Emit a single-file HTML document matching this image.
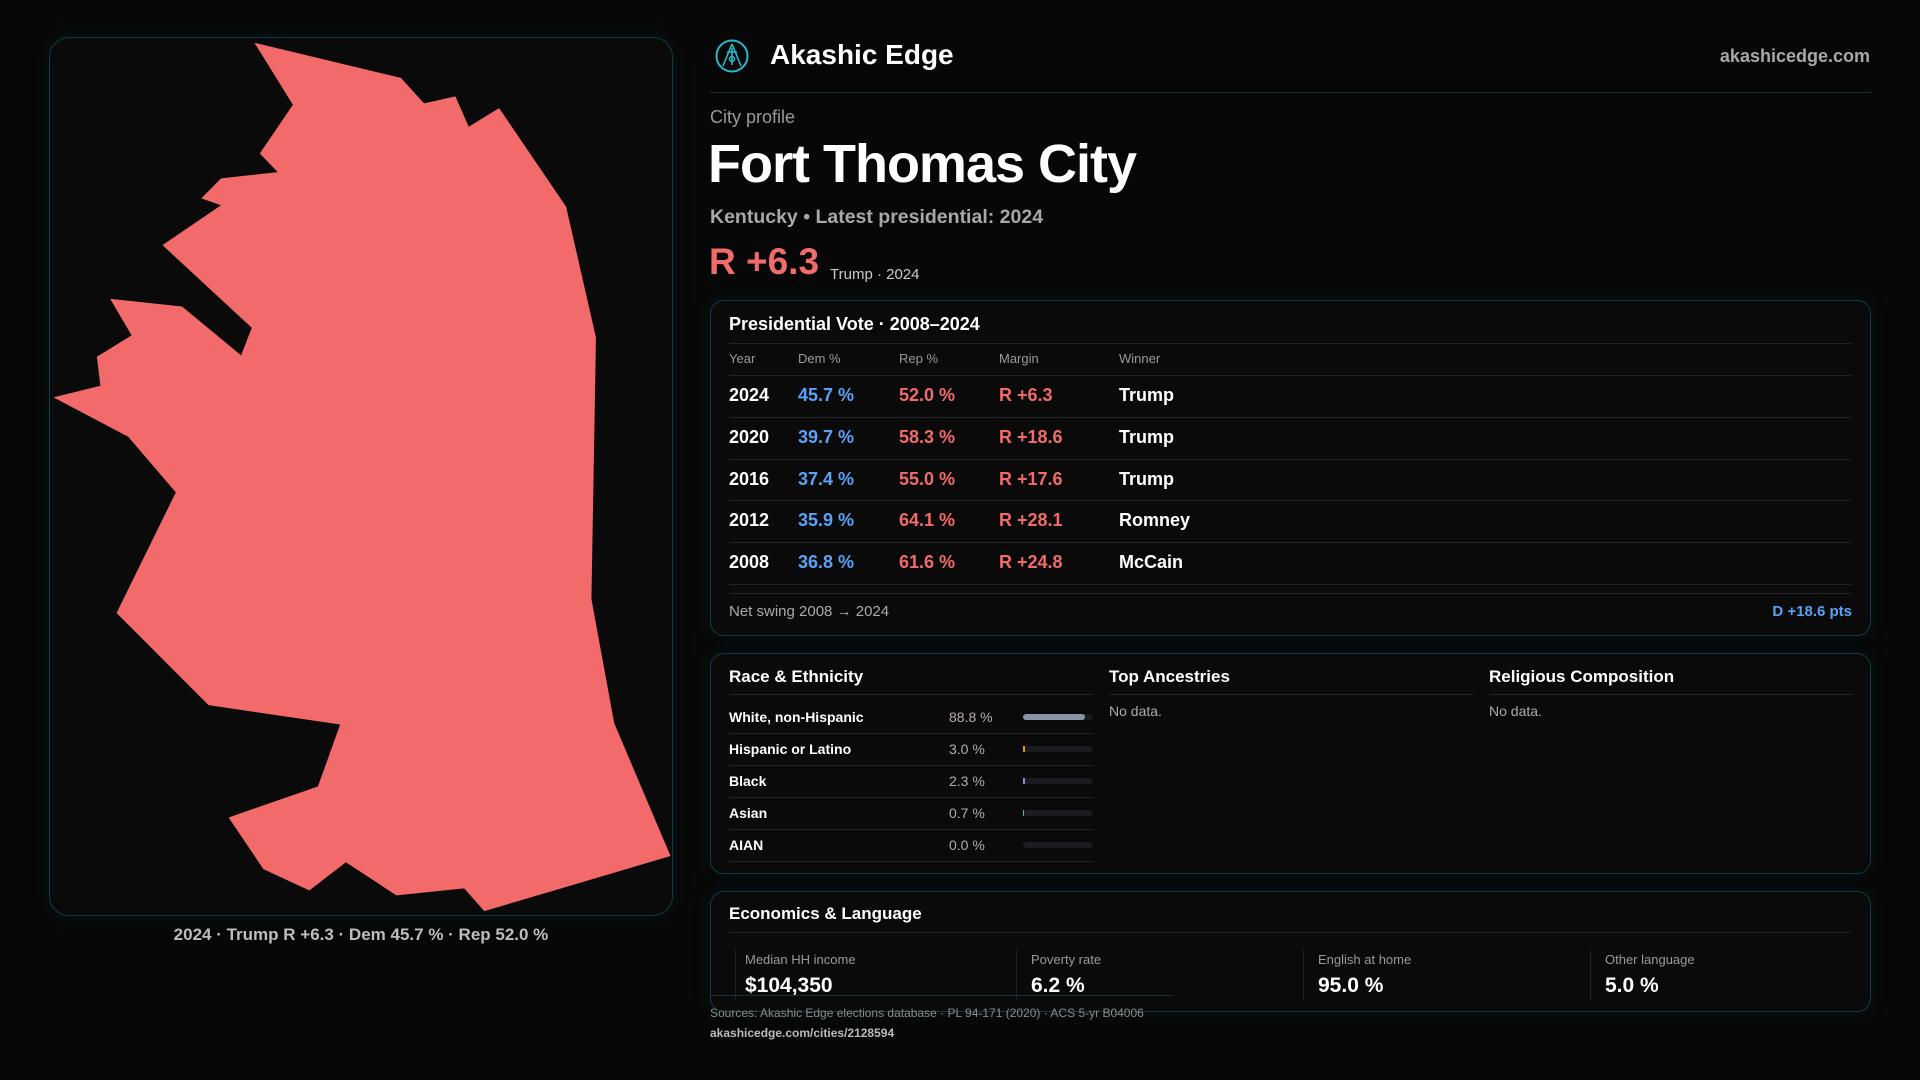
<!DOCTYPE html>
<html><head><meta charset="utf-8"><style>
*{margin:0;padding:0;box-sizing:border-box}
body{width:1920px;height:1080px;background:#070707;font-family:"Liberation Sans",sans-serif;position:relative;overflow:hidden;color:#fff}
.a{position:absolute;white-space:nowrap}
.card{position:absolute;border:1px solid #0f3b45;border-radius:14px;background:#0a0a0b;box-shadow:0 0 18px rgba(20,90,110,0.18)}
.hl{position:absolute;height:1px;background:#1e2226}
.g{color:#9a9a9a}
.b{font-weight:bold}
.blue{color:#5aa2f7}.red{color:#f26b6b}
.bar{position:absolute;height:6px;border-radius:3px;background:#1b1c1f;left:1023px;width:70px}
</style></head><body>
<div class="card" style="left:49px;top:37px;width:624px;height:879px;border-radius:20px;background:#0a0a0b"></div>
<svg class="a" style="left:0;top:0" width="1920" height="1080" viewBox="0 0 1568 882">
<polygon fill="#f36a6a" points="207.8,34.9 327.4,63.6 346.3,84.4 371.9,78.7 382.8,103.5 407.6,88.3 462.3,168.7 486.7,275.6 483,489.3 501.6,590.6 547.6,699.1 395.5,744.1 379.1,725.5 323.7,731.2 282.5,704.2 252.6,727.2 215.1,709.8 186.7,667.6 259.6,642.3 277.8,591.7 170.3,575.9 95.2,500.6 143.6,402.1 104.6,356.6 43.7,324.5 82,315 79.1,291.3 107.5,273.9 90,244.1 148.7,250.3 196.9,290.2 205.6,267.7 132.7,200.2 180.5,167.6 164.4,162 180.5,145.7 226.8,140.6 212.2,125.4 239.2,85.5"/>
</svg>
<div class="a b" style="left:0;width:722px;text-align:center;top:925px;font-size:17px;color:#bdbdbd">2024 · Trump R +6.3 · Dem 45.7 % · Rep 52.0 %</div>

<svg class="a" style="left:714px;top:38px" width="36" height="36" viewBox="0 0 36 36"><circle cx="18" cy="18" r="15.5" fill="none" stroke="#2bb8c8" stroke-width="2"/><path d="M18 6 L9 28 M18 6 L27 28 M18 10 L18 27 M13 14 L23 14" stroke="#2bb8c8" stroke-width="1.6" fill="none"/><circle cx="18" cy="21" r="2.5" fill="none" stroke="#2bb8c8" stroke-width="1.5"/></svg>
<div class="a b" style="left:770px;top:39px;font-size:28px">Akashic Edge</div>
<div class="a b g" style="right:50px;top:46px;font-size:18px;color:#a8a8a8">akashicedge.com</div>
<div class="hl" style="left:710px;top:92px;width:1161px;background:#173038"></div>
<div class="a" style="left:710px;top:107px;font-size:18px;color:#9a9a9a">City profile</div>
<div class="a b" style="left:708px;top:133px;font-size:54px;letter-spacing:-1px">Fort Thomas City</div>
<div class="a b" style="left:710px;top:206px;font-size:19.5px;color:#a8a8a8">Kentucky • Latest presidential: 2024</div>
<div class="a b red" style="left:709px;top:241px;font-size:37px">R +6.3</div>
<div class="a" style="left:830px;top:266px;font-size:15px;color:#c8c8c8">Trump · 2024</div>

<div class="card" style="left:710px;top:300px;width:1161px;height:336px"></div>
<div class="a b" style="left:729px;top:314px;font-size:18px">Presidential Vote · 2008–2024</div>
<div class="hl" style="left:729px;top:343px;width:1123px"></div>
<div class="a g" style="left:729px;top:351px;font-size:13px">Year</div>
<div class="a g" style="left:798px;top:351px;font-size:13px">Dem %</div>
<div class="a g" style="left:899px;top:351px;font-size:13px">Rep %</div>
<div class="a g" style="left:999px;top:351px;font-size:13px">Margin</div>
<div class="a g" style="left:1119px;top:351px;font-size:13px">Winner</div>
<div class="hl" style="left:729px;top:375px;width:1123px"></div>

<div class="a b" style="left:729px;top:385px;font-size:18px">2024</div><div class="a b blue" style="left:798px;top:385px;font-size:18px">45.7 %</div><div class="a b red" style="left:899px;top:385px;font-size:18px">52.0 %</div><div class="a b red" style="left:999px;top:385px;font-size:18px">R +6.3</div><div class="a b" style="left:1119px;top:385px;font-size:18px">Trump</div>
<div class="hl" style="left:729px;top:417px;width:1123px"></div>
<div class="a b" style="left:729px;top:427px;font-size:18px">2020</div><div class="a b blue" style="left:798px;top:427px;font-size:18px">39.7 %</div><div class="a b red" style="left:899px;top:427px;font-size:18px">58.3 %</div><div class="a b red" style="left:999px;top:427px;font-size:18px">R +18.6</div><div class="a b" style="left:1119px;top:427px;font-size:18px">Trump</div>
<div class="hl" style="left:729px;top:459px;width:1123px"></div>
<div class="a b" style="left:729px;top:469px;font-size:18px">2016</div><div class="a b blue" style="left:798px;top:469px;font-size:18px">37.4 %</div><div class="a b red" style="left:899px;top:469px;font-size:18px">55.0 %</div><div class="a b red" style="left:999px;top:469px;font-size:18px">R +17.6</div><div class="a b" style="left:1119px;top:469px;font-size:18px">Trump</div>
<div class="hl" style="left:729px;top:500px;width:1123px"></div>
<div class="a b" style="left:729px;top:510px;font-size:18px">2012</div><div class="a b blue" style="left:798px;top:510px;font-size:18px">35.9 %</div><div class="a b red" style="left:899px;top:510px;font-size:18px">64.1 %</div><div class="a b red" style="left:999px;top:510px;font-size:18px">R +28.1</div><div class="a b" style="left:1119px;top:510px;font-size:18px">Romney</div>
<div class="hl" style="left:729px;top:542px;width:1123px"></div>
<div class="a b" style="left:729px;top:552px;font-size:18px">2008</div><div class="a b blue" style="left:798px;top:552px;font-size:18px">36.8 %</div><div class="a b red" style="left:899px;top:552px;font-size:18px">61.6 %</div><div class="a b red" style="left:999px;top:552px;font-size:18px">R +24.8</div><div class="a b" style="left:1119px;top:552px;font-size:18px">McCain</div>
<div class="hl" style="left:729px;top:584px;width:1123px"></div>
<div class="hl" style="left:729px;top:593px;width:1123px"></div>
<div class="a" style="left:729px;top:603px;font-size:15px;color:#aaa">Net swing 2008 → 2024</div>
<div class="a b blue" style="right:68px;top:603px;font-size:15px">D +18.6 pts</div>

<div class="card" style="left:710px;top:653px;width:1161px;height:221px"></div>
<div class="a b" style="left:729px;top:667px;font-size:17px">Race &amp; Ethnicity</div>
<div class="a b" style="left:1109px;top:667px;font-size:17px">Top Ancestries</div>
<div class="a b" style="left:1489px;top:667px;font-size:17px">Religious Composition</div>
<div class="hl" style="left:729px;top:694px;width:364px"></div>
<div class="hl" style="left:1109px;top:694px;width:364px"></div>
<div class="hl" style="left:1489px;top:694px;width:364px"></div>
<div class="a" style="left:1109px;top:703px;font-size:14px;color:#aaa">No data.</div>
<div class="a" style="left:1489px;top:703px;font-size:14px;color:#aaa">No data.</div>

<div class="a b" style="left:729px;top:709px;font-size:14px">White, non-Hispanic</div><div class="a" style="left:949px;top:709px;font-size:14px;color:#b5aca6">88.8 %</div><div class="bar" style="top:714px"></div><div class="bar" style="top:714px;width:62px;background:#8a94a6"></div>
<div class="hl" style="left:729px;top:733px;width:364px"></div>
<div class="a b" style="left:729px;top:741px;font-size:14px">Hispanic or Latino</div><div class="a" style="left:949px;top:741px;font-size:14px;color:#b5aca6">3.0 %</div><div class="bar" style="top:746px"></div><div class="bar" style="top:746px;width:2px;background:#e8961e;border-radius:0"></div>
<div class="hl" style="left:729px;top:765px;width:364px"></div>
<div class="a b" style="left:729px;top:773px;font-size:14px">Black</div><div class="a" style="left:949px;top:773px;font-size:14px;color:#b5aca6">2.3 %</div><div class="bar" style="top:778px"></div><div class="bar" style="top:778px;width:2px;background:#9b7fe0;border-radius:0"></div>
<div class="hl" style="left:729px;top:797px;width:364px"></div>
<div class="a b" style="left:729px;top:805px;font-size:14px">Asian</div><div class="a" style="left:949px;top:805px;font-size:14px;color:#b5aca6">0.7 %</div><div class="bar" style="top:810px"></div><div class="bar" style="top:810px;width:1px;background:#3ac0a0;border-radius:0"></div>
<div class="hl" style="left:729px;top:829px;width:364px"></div>
<div class="a b" style="left:729px;top:837px;font-size:14px">AIAN</div><div class="a" style="left:949px;top:837px;font-size:14px;color:#b5aca6">0.0 %</div><div class="bar" style="top:842px"></div>
<div class="hl" style="left:729px;top:861px;width:364px"></div>

<div class="card" style="left:710px;top:891px;width:1161px;height:121px"></div>
<div class="a b" style="left:729px;top:904px;font-size:17px">Economics &amp; Language</div>
<div class="hl" style="left:729px;top:932px;width:1123px"></div>
<div class="a" style="left:735px;top:950px;width:1px;height:50px;background:#1e2226"></div>
<div class="a" style="left:1016px;top:950px;width:1px;height:50px;background:#1e2226"></div>
<div class="a" style="left:1303px;top:950px;width:1px;height:50px;background:#1e2226"></div>
<div class="a" style="left:1590px;top:950px;width:1px;height:50px;background:#1e2226"></div>
<div class="a" style="left:745px;top:952px;font-size:13px;color:#999">Median HH income</div><div class="a b" style="left:745px;top:974px;font-size:21px">$104,350</div>
<div class="a" style="left:1031px;top:952px;font-size:13px;color:#999">Poverty rate</div><div class="a b" style="left:1031px;top:974px;font-size:21px">6.2 %</div>
<div class="a" style="left:1318px;top:952px;font-size:13px;color:#999">English at home</div><div class="a b" style="left:1318px;top:974px;font-size:21px">95.0 %</div>
<div class="a" style="left:1605px;top:952px;font-size:13px;color:#999">Other language</div><div class="a b" style="left:1605px;top:974px;font-size:21px">5.0 %</div>
<div class="hl" style="left:710px;top:995px;width:463px;background:#173038"></div>
<div class="a" style="left:710px;top:1006px;font-size:12px;color:#8a8a8a">Sources: Akashic Edge elections database · PL 94-171 (2020) · ACS 5-yr B04006</div>
<div class="a b" style="left:710px;top:1026px;font-size:12px;color:#bbb">akashicedge.com/cities/2128594</div>
</body></html>
